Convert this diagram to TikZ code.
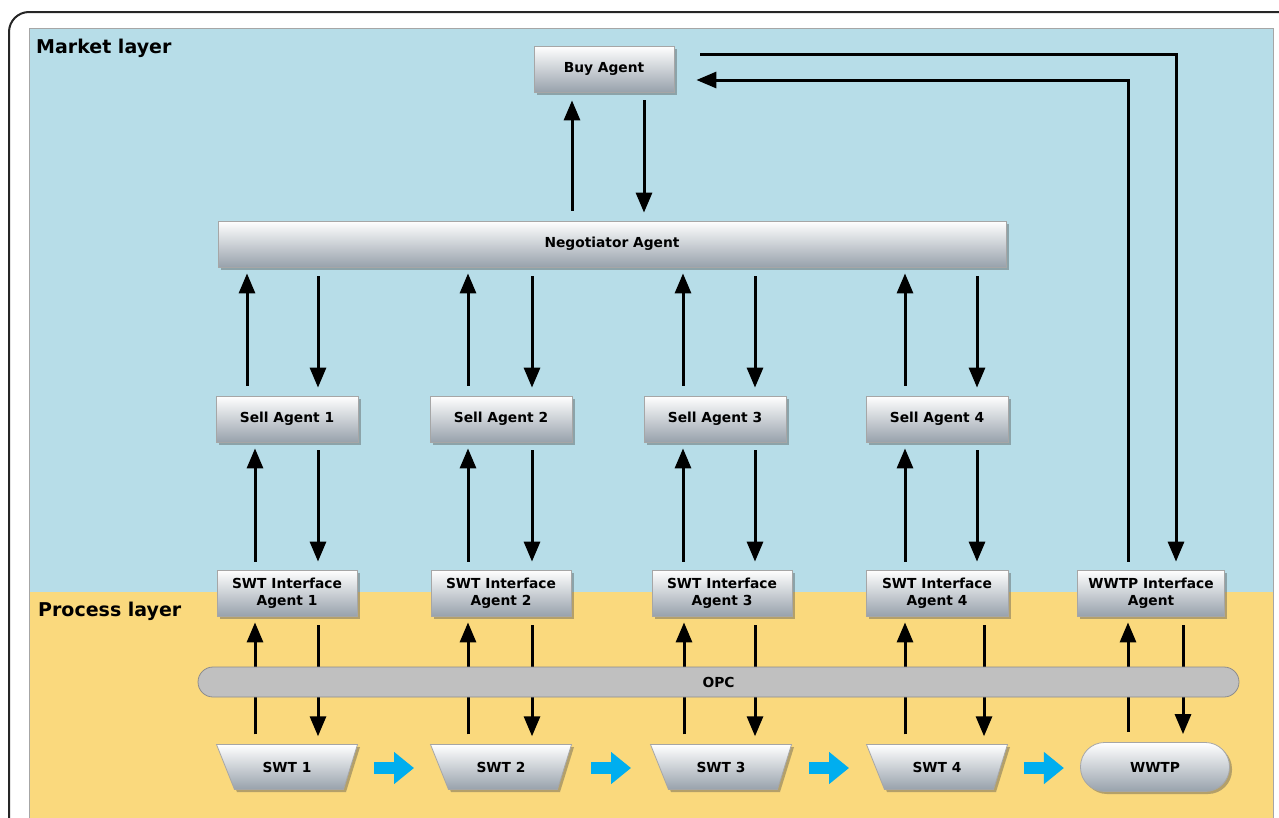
\documentclass[tikz,border=0pt]{standalone}
\usepackage{fontspec}
\setmainfont{DejaVu Sans}
\usetikzlibrary{arrows.meta,shapes.geometric,shadows,calc}
\definecolor{mblue}{RGB}{183,221,232}
\definecolor{pyellow}{RGB}{250,217,125}
\definecolor{boxbot}{RGB}{152,162,172}
\definecolor{opcgray}{RGB}{192,192,192}
\definecolor{flowcyan}{RGB}{0,174,239}
\newcommand{\swtshape}[3]{%
  \coordinate (#1c) at (#2,767);
  \path[boxlook] ($(#1c)+(-70.5,-22.5)$) -- ($(#1c)+(70.5,-22.5)$) -- ($(#1c)+(56.5,22.5)$)
     -- ($(#1c)+(-52.5,22.5)$) -- cycle;
  \node[boxtext, minimum width=141pt, minimum height=45pt] (#1) at (#1c) {#3};}
\begin{document}
\begin{tikzpicture}[x=1pt,y=-1pt,
  boxlook/.style={draw=black!35, line width=0.8pt, top color=white, bottom color=boxbot,
    drop shadow={shadow xshift=2.5pt,shadow yshift=-2.5pt,opacity=0.4,fill=black!70}},
  boxtext/.style={font=\bfseries\fontsize{13.8}{17.5}\selectfont, align=center, inner sep=0pt},
  agent/.style={boxlook, boxtext, minimum height=46pt},
  pill/.style={agent, rounded corners=24pt, minimum width=149pt, minimum height=49pt},
  arr/.style={line width=3pt, -{Triangle[width=16pt,length=20pt]}},
  flow/.style={line width=12pt, flowcyan, -{Triangle[width=31pt,length=20pt]}},
  layerlabel/.style={font=\bfseries\fontsize{19}{21}\selectfont, anchor=base west, inner sep=0pt}
]
\useasboundingbox (0,0) rectangle (1279,817);
% frame and layers
\fill[mblue] (29,28) rectangle (1273,592);
\fill[pyellow] (29,592) rectangle (1273,820);
\draw[black!35, line width=1pt] (29,820) -- (29,28) -- (1273,28) -- (1273,820);
\draw[black!85, line width=2pt, rounded corners=20pt] (9,830) -- (9,12) -- (1290,12);
\node[layerlabel] (mlabel) at (36,53) {Market layer};
\node[layerlabel] (plabel) at (38,616) {Process layer};

% nodes
\node[agent, minimum width=140pt] (buy) at (604,69) {Buy Agent};
\node[agent, minimum width=788pt] (neg) at (612,244) {Negotiator Agent};
\node[agent, minimum width=142pt] (s1) at (287,419) {Sell Agent 1};
\node[agent, minimum width=142pt] (s2) at (501,419) {Sell Agent 2};
\node[agent, minimum width=142pt] (s3) at (715,419) {Sell Agent 3};
\node[agent, minimum width=142pt] (s4) at (937,419) {Sell Agent 4};
\node[agent, minimum width=140pt] (i1) at (287,593) {SWT Interface\\Agent 1};
\node[agent, minimum width=140pt] (i2) at (501,593) {SWT Interface\\Agent 2};
\node[agent, minimum width=140pt] (i3) at (722,593) {SWT Interface\\Agent 3};
\node[agent, minimum width=142pt] (i4) at (937,593) {SWT Interface\\Agent 4};
\node[agent, minimum width=147pt] (iw) at (1151,593) {WWTP Interface\\Agent};
\swtshape{w1}{287}{SWT 1}
\swtshape{w2}{501}{SWT 2}
\swtshape{w3}{721}{SWT 3}
\swtshape{w4}{937}{SWT 4}
\node[pill] (ww) at (1155,767) {WWTP};

% column coordinates
\foreach \x in {247,255,318,468,532,572,644,683,684,755,905,977,984,1128,1176,1183}
  \coordinate (x\x) at (\x,0);

% buy <-> negotiator
\draw[arr, shorten <=10pt, shorten >=8pt] (neg.north -| x572) -- (buy.south -| x572);
\draw[arr, shorten <=8pt, shorten >=8pt] (buy.south -| x644) -- (neg.north -| x644);

% negotiator <-> sell
\draw[arr, shorten <=10pt, shorten >=6pt] (s1.north -| x247) -- (neg.south -| x247);
\draw[arr, shorten <=9pt, shorten >=8pt] (neg.south -| x318) -- (s1.north -| x318);
\draw[arr, shorten <=10pt, shorten >=6pt] (s2.north -| x468) -- (neg.south -| x468);
\draw[arr, shorten <=9pt, shorten >=8pt] (neg.south -| x532) -- (s2.north -| x532);
\draw[arr, shorten <=10pt, shorten >=6pt] (s3.north -| x683) -- (neg.south -| x683);
\draw[arr, shorten <=9pt, shorten >=8pt] (neg.south -| x755) -- (s3.north -| x755);
\draw[arr, shorten <=10pt, shorten >=6pt] (s4.north -| x905) -- (neg.south -| x905);
\draw[arr, shorten <=9pt, shorten >=8pt] (neg.south -| x977) -- (s4.north -| x977);

% sell <-> interface
\draw[arr, shorten <=8pt, shorten >=6pt] (i1.north -| x255) -- (s1.south -| x255);
\draw[arr, shorten <=8pt, shorten >=8pt] (s1.south -| x318) -- (i1.north -| x318);
\draw[arr, shorten <=8pt, shorten >=6pt] (i2.north -| x468) -- (s2.south -| x468);
\draw[arr, shorten <=8pt, shorten >=8pt] (s2.south -| x532) -- (i2.north -| x532);
\draw[arr, shorten <=8pt, shorten >=6pt] (i3.north -| x683) -- (s3.south -| x683);
\draw[arr, shorten <=8pt, shorten >=8pt] (s3.south -| x755) -- (i3.north -| x755);
\draw[arr, shorten <=8pt, shorten >=6pt] (i4.north -| x905) -- (s4.south -| x905);
\draw[arr, shorten <=8pt, shorten >=8pt] (s4.south -| x977) -- (i4.north -| x977);

% wwtp interface <-> buy agent
\draw[arr, shorten <=8pt, shorten >=22pt] (iw.north -| x1128) |- ($(buy.east)+(0,11)$);
\draw[arr, shorten <=26pt, shorten >=8pt] ($(buy.east)+(0,-15)$) -| (iw.north -| x1176);

% interface <-> plants
\draw[arr, shorten <=10pt, shorten >=6pt] (w1.north -| x255) -- (i1.south -| x255);
\draw[arr, shorten <=9pt, shorten >=8pt] (i1.south -| x318) -- (w1.north -| x318);
\draw[arr, shorten <=10pt, shorten >=6pt] (w2.north -| x468) -- (i2.south -| x468);
\draw[arr, shorten <=9pt, shorten >=8pt] (i2.south -| x532) -- (w2.north -| x532);
\draw[arr, shorten <=10pt, shorten >=6pt] (w3.north -| x684) -- (i3.south -| x684);
\draw[arr, shorten <=9pt, shorten >=8pt] (i3.south -| x755) -- (w3.north -| x755);
\draw[arr, shorten <=10pt, shorten >=6pt] (w4.north -| x905) -- (i4.south -| x905);
\draw[arr, shorten <=9pt, shorten >=8pt] (i4.south -| x984) -- (w4.north -| x984);
\draw[arr, shorten <=10pt, shorten >=6pt] (ww.north -| x1128) -- (iw.south -| x1128);
\draw[arr, shorten <=9pt, shorten >=8pt] (iw.south -| x1183) -- (ww.north -| x1183);

% OPC bus (over the arrows)
\node[draw=black!45, line width=0.8pt, fill=opcgray, rounded corners=15pt,
  minimum width=1041pt, minimum height=30pt, inner sep=0pt,
  font=\bfseries\fontsize{13.8}{15}\selectfont] (opc) at (718.5,682) {OPC};

% flow arrows
\coordinate (f1) at ($(w1.east)!0.5!(w2.west)$);
\coordinate (f2) at ($(w2.east)!0.5!(w3.west)$);
\coordinate (f3) at ($(w3.east)!0.5!(w4.west)$);
\coordinate (f4) at ($(w4.east)!0.5!(ww.west)$);
\foreach \f in {f1,f2,f3,f4}
  \draw[flow] ($(\f)+(-20,1)$) -- ($(\f)+(20,1)$);
\end{tikzpicture}
\end{document}
